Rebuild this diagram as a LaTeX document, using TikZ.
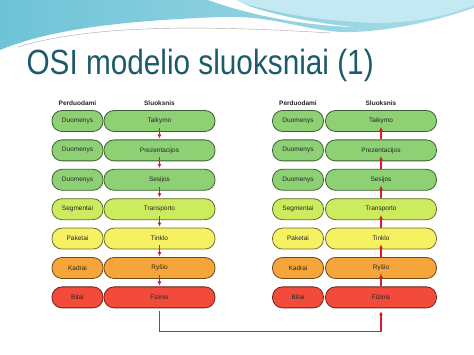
\documentclass[tikz,border=0pt]{standalone}
\usepackage{fontspec}
\setmainfont{Liberation Sans}
\usepackage{tikz}
\usetikzlibrary{positioning, arrows.meta}
\usepackage{xcolor}

\definecolor{c_green}{HTML}{8DD174}
\definecolor{c_lime}{HTML}{CDEB5F}
\definecolor{c_yellow}{HTML}{F6F163}
\definecolor{c_orange}{HTML}{F5A53A}
\definecolor{c_red}{HTML}{F24B3B}
\definecolor{c_arrow}{HTML}{D81E28}
\definecolor{c_title}{HTML}{1D5B6B}
\definecolor{c_sky}{HTML}{6EC3D6}
\definecolor{c_skylight}{HTML}{A9DDEA}
\definecolor{c_skypale}{HTML}{C4E9F2}

\tikzset{
  layer/.style={rounded corners=10pt, minimum width=111pt, minimum height=21pt,
    inner sep=0pt, line width=0.8pt, text=black!85, font=\fontsize{6.5}{7}\selectfont},
  pdu/.style={layer, minimum width=51pt},
  head/.style={font=\bfseries\fontsize{6.5}{7}\selectfont, text=black!85},
  lgreen/.style={fill=c_green, draw=c_green!45!black},
  llime/.style={fill=c_lime, draw=c_lime!45!black},
  lyellow/.style={fill=c_yellow, draw=c_yellow!45!black},
  lorange/.style={fill=c_orange, draw=c_orange!45!black},
  lred/.style={fill=c_red, draw=c_red!45!black},
  flow/.style={draw=c_arrow, line width=1.2pt, -{Latex[length=4pt, width=4pt]}},
}

\begin{document}
\begin{tikzpicture}[x=1pt, y=1pt, node distance=29.4pt, on grid]
   \useasboundingbox (0,0) rectangle (474,355);
   \fill[white] (0,0) rectangle (474,355);

   % virsaus juosta
   \shade[left color=c_sky, right color=c_skylight]
     (0,355) -- (474,355) -- (474,347)
     .. controls (430,332) and (380,322) .. (340,323)
     .. controls (300,326) and (270,340) .. (220,338)
     .. controls (150,335) and (60,330) .. (0,305) -- cycle;
   \fill[c_skypale] (232,355) .. controls (280,340) and (330,333) .. (380,332)
     .. controls (420,333) and (450,340) .. (474,350) -- (474,355) -- cycle;
   \fill[white] (208,355) .. controls (250,340) and (300,330) .. (352,328)
     .. controls (300,334) and (255,344) .. (236,355) -- cycle;
   \draw[black!35, line width=0.4pt] (18,308) .. controls (90,330) and (200,330) .. (330,322);

   % pavadinimas
   \node[anchor=base west, text=c_title, font=\fontsize{35}{40}\selectfont]
     (ttl) at (23,280) {\scalebox{0.85}[1]{OSI modelio sluoksniai (1)}};

   % kaire puse - siuntejas
   \node[layer, lgreen] (t_1) at (159.5,234) {Taikymo};
   \node[layer, lgreen] (t_2) [below=of t_1] {Prezentacijos};
   \node[layer, lgreen] (t_3) [below=of t_2] {Sesijos};
   \node[layer, llime] (t_4) [below=of t_3] {Transporto};
   \node[layer, lyellow] (t_5) [below=of t_4] {Tinklo};
   \node[layer, lorange] (t_6) [below=of t_5] {Ryšio};
   \node[layer, lred] (t_7) [below=of t_6] {Fizinis};

   \node[pdu, lgreen] (d_1) [left=82pt of t_1] {Duomenys};
   \node[pdu, lgreen] (d_2) [left=82pt of t_2] {Duomenys};
   \node[pdu, lgreen] (d_3) [left=82pt of t_3] {Duomenys};
   \node[pdu, llime] (d_4) [left=82pt of t_4] {Segmentai};
   \node[pdu, lyellow] (d_5) [left=82pt of t_5] {Paketai};
   \node[pdu, lorange] (d_6) [left=82pt of t_6] {Kadrai};
   \node[pdu, lred] (d_7) [left=82pt of t_7] {Bitai};

   \node[head] (hd_1) [above=18pt of d_1] {Perduodami};
   \node[head] (hl_1) [above=18pt of t_1] {Sluoksnis};

   % desine puse - gavejas
   \node[layer, lgreen] (r_1) at (381,234) {Taikymo};
   \node[layer, lgreen] (r_2) [below=of r_1] {Prezentacijos};
   \node[layer, lgreen] (r_3) [below=of r_2] {Sesijos};
   \node[layer, llime] (r_4) [below=of r_3] {Transporto};
   \node[layer, lyellow] (r_5) [below=of r_4] {Tinklo};
   \node[layer, lorange] (r_6) [below=of r_5] {Ryšio};
   \node[layer, lred] (r_7) [below=of r_6] {Fizinis};

   \node[pdu, lgreen] (e_1) [left=83pt of r_1] {Duomenys};
   \node[pdu, lgreen] (e_2) [left=83pt of r_2] {Duomenys};
   \node[pdu, lgreen] (e_3) [left=83pt of r_3] {Duomenys};
   \node[pdu, llime] (e_4) [left=83pt of r_4] {Segmentai};
   \node[pdu, lyellow] (e_5) [left=83pt of r_5] {Paketai};
   \node[pdu, lorange] (e_6) [left=83pt of r_6] {Kadrai};
   \node[pdu, lred] (e_7) [left=83pt of r_7] {Bitai};

   \node[head] (hd_2) [above=18pt of e_1] {Perduodami};
   \node[head] (hl_2) [above=18pt of r_1] {Sluoksnis};

   \coordinate[below=34pt of t_7] (b_l);
   \coordinate[below=34pt of r_7] (b_r);

   \path[flow, shorten <=-4pt, shorten >=1pt]
    (t_1) edge (t_2)
    (t_2) edge (t_3)
    (t_3) edge (t_4)
    (t_4) edge (t_5)
    (t_5) edge (t_6)
    (t_6) edge (t_7);

   \path[flow, shorten >=-5pt]
    (r_7) edge (r_6)
    (r_6) edge (r_5)
    (r_5) edge (r_4)
    (r_4) edge (r_3)
    (r_3) edge (r_2)
    (r_2) edge (r_1);

   % fizine terpe
   \draw[flow, shorten <=3pt, shorten >=3pt] (t_7) -- (b_l) -- (b_r) -- (r_7);
\end{tikzpicture}
\end{document}
